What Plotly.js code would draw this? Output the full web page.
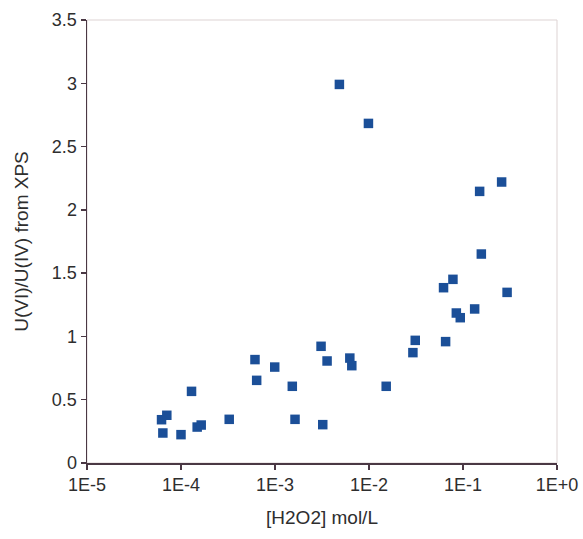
<!DOCTYPE html>
<html>
<head>
<meta charset="utf-8">
<script src="https://cdn.plot.ly/plotly-3.0.1.min.js"></script>
<style>html,body{margin:0;padding:0;background:#fff;}#chart{width:583px;height:539px;}</style>
</head>
<body>
<div id="chart"></div>
<script>
// log10 of [H2O2] (mol/L)
const logH2O2 = [-4.207, -4.151, -4.193, -4.0, -3.888, -3.828, -3.785, -3.487,
  -3.213, -3.195, -3.003, -2.816, -2.787, -2.510, -2.446, -2.492, -2.204, -2.183,
  -1.817, -1.533, -1.508, -1.185, -1.207, -1.107, -1.071, -1.029, -0.876, -0.531,
  -2.315, -2.006, -0.823, -0.589, -0.805];
const ratio = [0.342, 0.377, 0.237, 0.224, 0.566, 0.284, 0.300, 0.345,
  0.817, 0.653, 0.758, 0.606, 0.345, 0.922, 0.806, 0.303, 0.829, 0.769,
  0.606, 0.872, 0.969, 0.959, 1.385, 1.451, 1.185, 1.148, 1.217, 1.348,
  2.991, 2.683, 2.146, 2.220, 1.651];
const xTickVals = [1e-5, 1e-4, 1e-3, 1e-2, 1e-1, 1];
const xTickText = ['1E-5', '1E-4', '1E-3', '1E-2', '1E-1', '1E+0'];
const yTickVals = [0, 0.5, 1, 1.5, 2, 2.5, 3, 3.5];
const yTickText = ['0', '0.5', '1', '1.5', '2', '2.5', '3', '3.5'];

const h2o2 = logH2O2.map(v => Math.pow(10, v));

const axisColor = '#4a3844';
const tickFont = {family: 'Liberation Sans, Arial, sans-serif', size: 18, color: '#2e2e2e'};
const titleFont = {family: 'Liberation Sans, Arial, sans-serif', size: 19, color: '#2e2e2e'};

Plotly.newPlot('chart', [{
  x: h2o2, y: ratio, type: 'scatter', mode: 'markers',
  marker: {symbol: 'square', size: 9.5, color: '#1b4f98'},
  hoverinfo: 'x+y'
}], {
  width: 583, height: 539,
  margin: {l: 87, r: 26, t: 20, b: 76},
  paper_bgcolor: '#fff', plot_bgcolor: '#fff',
  showlegend: false,
  font: tickFont,
  xaxis: {
    type: 'log', range: [-5, 0], tickvals: xTickVals, ticktext: xTickText,
    showgrid: false, zeroline: false, showline: true, linecolor: axisColor, linewidth: 1.5,
    ticks: 'outside', ticklen: 5, tickcolor: axisColor, tickwidth: 1.5,
    tickfont: tickFont,
    title: {text: '[H2O2] mol/L', font: titleFont, standoff: 16}
  },
  yaxis: {
    range: [0, 3.5], tickvals: yTickVals, ticktext: yTickText,
    showgrid: false, zeroline: false, showline: true, linecolor: axisColor, linewidth: 1.5,
    ticks: 'outside', ticklen: 5, tickcolor: axisColor, tickwidth: 1.5,
    tickfont: tickFont,
    title: {text: 'U(VI)/U(IV) from XPS', font: titleFont, standoff: 18}
  },
  shapes: [{type: 'rect', xref: 'paper', yref: 'paper', x0: 0, x1: 1, y0: 0, y1: 1,
    line: {color: '#ddd3d3', width: 1}, layer: 'below'}]
}, {staticPlot: true});
</script>
</body>
</html>
